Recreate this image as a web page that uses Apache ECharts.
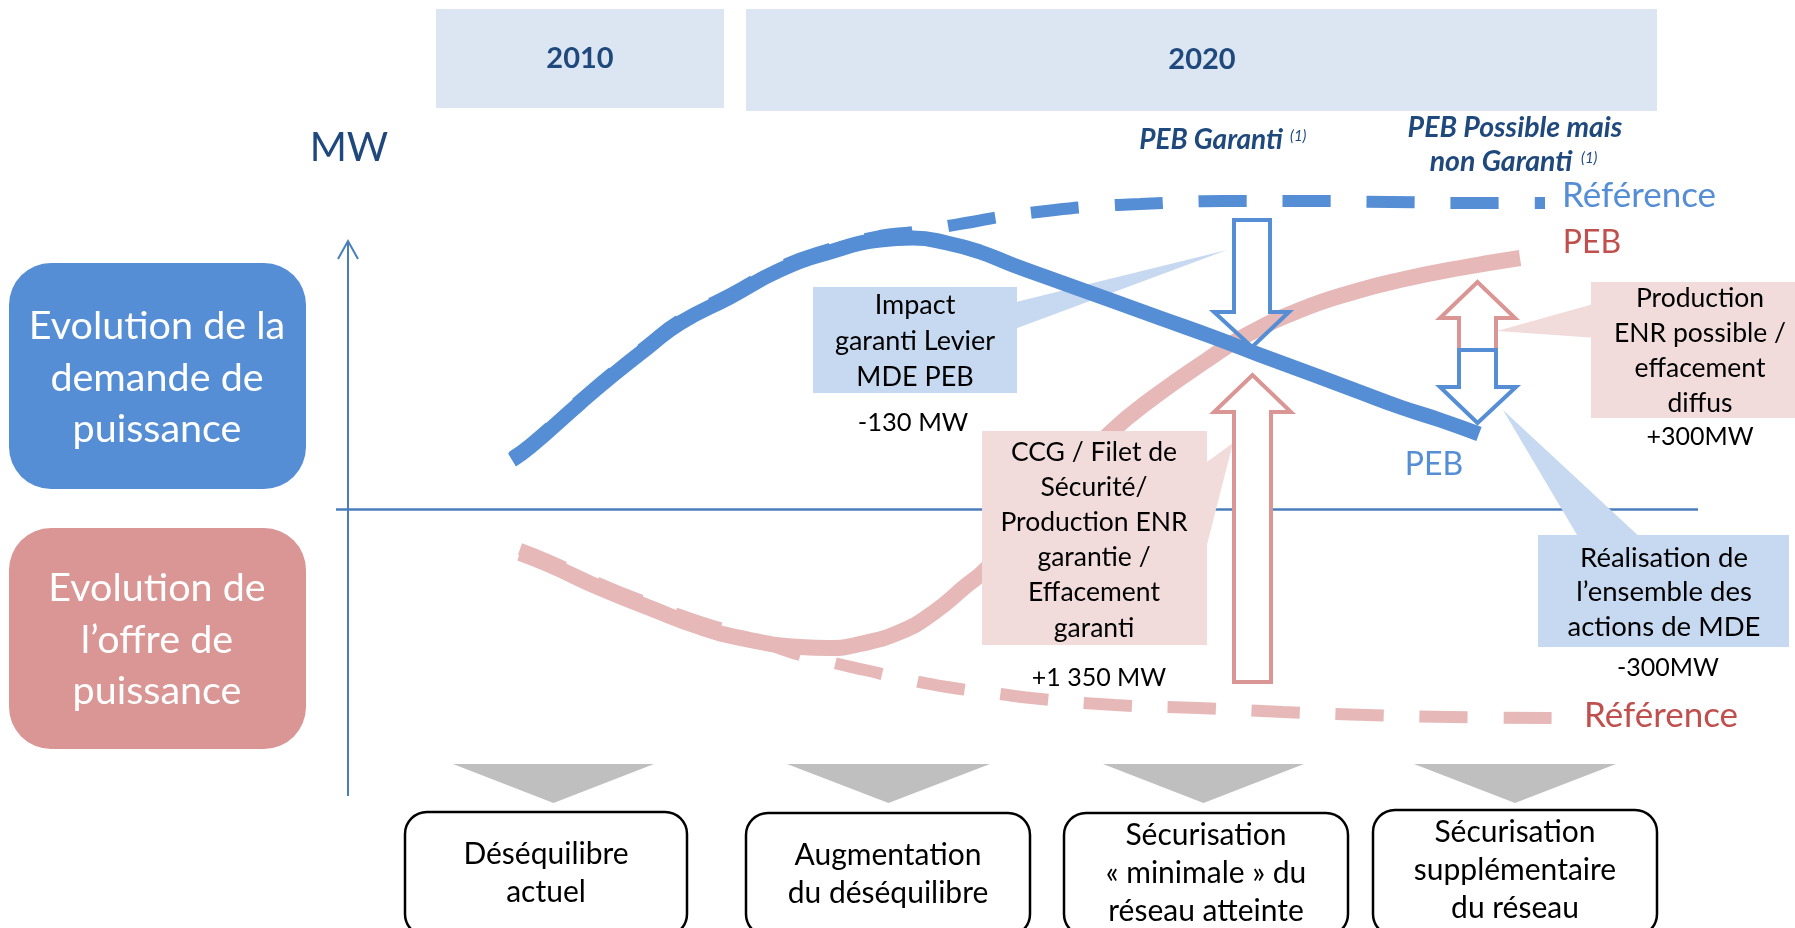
<!DOCTYPE html>
<html><head><meta charset="utf-8">
<script src="https://cdn.jsdelivr.net/npm/echarts@6/dist/echarts.min.js"></script>
<style>html,body{margin:0;padding:0;background:#fff;overflow:hidden}#c{width:1795px;height:928px}</style>
</head><body><div id="c"></div>
<script>
// ---- data (diagram units: x = time position, y = power level, top = 0) ----
const periodLabels = ['2010', '2020'];
const demandeReference = [[512,457],[530,444],[580,400],[613,372],[647,345],[680,320],[730,294],[780,267],[830,249],[880,236],[913,232],[948,226],[972,222],[1000,217],[1055,210],[1100,206],[1140,204],[1223,201],[1307,201],[1391,202],[1474,203],[1545,203]];
const demandePEB = [[512,460],[530,447],[580,403],[613,375],[647,348],[680,323],[730,297],[780,270],[830,252],[880,240],[913,238],[947,243],[980,252],[1013,265],[1060,282],[1113,301],[1160,318],[1213,337],[1260,355],[1317,376],[1357,391],[1400,407],[1440,420],[1479,434]];
const offreReference = [[520,549],[550,561],[600,584],[650,604],[700,622],[750,637],[790,652],[830,662],[865,670],[900,678],[947,687],[1000,694],[1031,698],[1115,705],[1199,708],[1283,712],[1367,715],[1451,717],[1560,718]];
const offrePEB = [[520,553],[550,565],[600,588],[650,608],[700,627],[750,640],[800,647],[830,648],[860,644],[900,632],[933,613],[967,585],[982,573],[1010,545],[1045,505],[1080,465],[1111,432],[1150,400],[1207,360],[1243,337],[1300,310],[1357,291],[1400,280],[1460,268],[1520,258]];
const phaseLabels = ['Déséquilibre\nactuel', 'Augmentation\ndu déséquilibre', 'Sécurisation\n« minimale » du\nréseau atteinte', 'Sécurisation\nsupplémentaire\ndu réseau'];
const rowLabels = ['Evolution de la\ndemande de\npuissance', 'Evolution de\nl\u2019offre de\npuissance'];
const calloutLabels = ['Impact\ngaranti Levier\nMDE PEB', 'CCG / Filet de\nSécurité/\nProduction ENR\ngarantie /\nEffacement\ngaranti', 'Production\nENR possible /\neffacement\ndiffus', 'Réalisation de\nl\u2019ensemble des\nactions de MDE'];
const impactValues = ['-130 MW', '+1 350 MW', '+300MW', '-300MW'];

// ---- styles ----
const F = 'Lato, "Noto Sans", sans-serif';
const BLUE = '#558ed5', PINK = '#e6b9b8', DARK = '#1f497d', RED = '#c0504d', ARROWRED = '#d99694';

function txt(x, y, text, size, color, o) {
  o = o || {};
  return { type: 'text', x: x, y: y, z: o.z || 30, zlevel: 0, silent: true,
    style: { text: text, fill: color, font: (o.italic ? 'italic ' : '') + (o.bold ? 'bold ' : '') + size + 'px ' + F,
      align: o.align || 'center', verticalAlign: 'middle', textAlign: o.align || 'center', textVerticalAlign: 'middle',
      lineHeight: o.lh || Math.round(size * 1.3) } };
}
function rect(x, y, w, h, fill, o) {
  o = o || {};
  return { type: 'rect', z: o.z || 10, silent: true, shape: { x: x, y: y, width: w, height: h, r: o.r || 0 },
    style: { fill: fill, stroke: o.stroke || null, lineWidth: o.lw || 0 } };
}
function poly(points, fill, o) {
  o = o || {};
  return { type: 'polygon', z: o.z || 10, silent: true, shape: { points: points },
    style: { fill: fill, stroke: o.stroke || null, lineWidth: o.lw || 0, lineJoin: 'miter' } };
}
function arrowDown(xl, xr, top, headY, hl, hr, tip) {
  const cx = (xl + xr) / 2;
  return [[xl, top], [xr, top], [xr, headY], [hr, headY], [cx, tip], [hl, headY], [xl, headY]];
}
function arrowUp(xl, xr, bottom, headY, hl, hr, tip) {
  const cx = (xl + xr) / 2;
  return [[xl, bottom], [xr, bottom], [xr, headY], [hr, headY], [cx, tip], [hl, headY], [xl, headY]];
}

const els = [];
// header periods
els.push(rect(436, 9, 288, 99, '#dce6f2', { z: 5 }));
els.push(rect(746, 9, 911, 102, '#dce6f2', { z: 5 }));
els.push(txt(580, 59, periodLabels[0], 29, DARK, { bold: true }));
els.push(txt(1202, 60, periodLabels[1], 29, DARK, { bold: true }));
// MW label
els.push(txt(349, 148, 'MW', 40, DARK));
// row boxes
els.push(rect(9, 263, 297, 226, '#558ed5', { r: 42, z: 5 }));
els.push(rect(9, 528, 297, 221, '#d99694', { r: 42, z: 5 }));
els.push(txt(157, 378, rowLabels[0], 39.5, '#ffffff', { lh: 51.5 }));
els.push(txt(157, 640, rowLabels[1], 39.5, '#ffffff', { lh: 51.5 }));
// axes
els.push({ type: 'line', z: 2, silent: true, shape: { x1: 348, y1: 241, x2: 348, y2: 796 }, style: { stroke: '#4a7ebb', lineWidth: 2 } });
els.push({ type: 'polyline', z: 2, silent: true, shape: { points: [[338, 259], [348, 241], [358, 259]] }, style: { stroke: '#4a7ebb', lineWidth: 2, fill: null } });
els.push({ type: 'line', z: 2, silent: true, shape: { x1: 336, y1: 509.5, x2: 1698, y2: 509.5 }, style: { stroke: '#4a7ebb', lineWidth: 2.5 } });
// titles above arrows
els.push(txt(1211, 140, 'PEB Garanti', 28, DARK, { bold: true, italic: true }));
els.push(txt(1290, 136, '(1)', 15, DARK, { italic: true, align: 'left' }));
els.push(txt(1515, 128, 'PEB Possible mais', 28.5, DARK, { bold: true, italic: true }));
els.push(txt(1501, 162, 'non Garanti', 28.5, DARK, { bold: true, italic: true }));
els.push(txt(1581, 158, '(1)', 15, DARK, { italic: true, align: 'left' }));
// curve labels
els.push(txt(1639, 196, 'Référence', 35, BLUE));
els.push(txt(1592, 243, 'PEB', 32, RED));
els.push(txt(1434, 465, 'PEB', 32, BLUE));
els.push(txt(1661, 716, 'Référence', 35, RED));
// callout: Impact (blue, below curves)
els.push(poly([[1012, 303], [1227, 250], [1012, 330]], '#c6d9f1', { z: 1 }));
els.push(rect(813, 287, 204, 106, '#c6d9f1', { z: 1 }));
els.push(txt(915, 341, calloutLabels[0], 27, '#000000', { lh: 36 }));
els.push(txt(913, 423, impactValues[0], 25.5, '#000000'));
// callout: CCG (pink, above red curve)
els.push(poly([[1200, 467], [1233, 443], [1200, 572]], '#f2dcdb', { z: 12 }));
els.push(rect(982, 431, 225, 214, '#f2dcdb', { z: 12 }));
els.push(txt(1094, 540, calloutLabels[1], 26.5, '#000000', { lh: 35.2 }));
els.push(txt(1099, 678, impactValues[1], 25, '#000000'));
// callout: Production ENR
els.push(poly([[1597, 303], [1497, 331], [1597, 338]], '#f2dcdb', { z: 12 }));
els.push(rect(1591, 282, 210, 136, '#f2dcdb', { z: 12 }));
els.push(txt(1700, 350.5, calloutLabels[2], 26.5, '#000000', { lh: 35 }));
els.push(txt(1700, 437, impactValues[2], 25, '#000000'));
// callout: Réalisation
els.push(poly([[1503, 410], [1643, 540], [1580, 540]], '#c6d9f1', { z: 12 }));
els.push(rect(1538, 535, 251, 112, '#c6d9f1', { z: 12 }));
els.push(txt(1664, 592.5, calloutLabels[3], 27.5, '#000000', { lh: 34.5 }));
els.push(txt(1668, 668, impactValues[3], 25, '#000000'));
// arrows
els.push(poly(arrowDown(1234, 1270, 220, 312, 1214, 1289, 347), 'rgba(255,255,255,0)', { stroke: BLUE, lw: 4, z: 20 }));
els.push(poly(arrowUp(1234, 1271, 682, 412, 1214, 1291, 375), '#ffffff', { stroke: ARROWRED, lw: 4, z: 20 }));
els.push(poly(arrowUp(1459, 1496, 350, 318, 1440, 1515, 282), '#ffffff', { stroke: ARROWRED, lw: 4, z: 20 }));
els.push(poly(arrowDown(1459, 1496, 350, 387, 1440, 1516, 423), '#ffffff', { stroke: BLUE, lw: 4, z: 21 }));
// phase triangles and boxes
const triX = [[453, 654], [787, 990], [1103, 1304], [1414, 1616]];
const boxX = [[405, 687], [746, 1030], [1064, 1348], [1373, 1657]];
const boxTop = [812, 813, 813, 810];
const textY = [873.5, 874, 873.5, 870];
for (let i = 0; i < 4; i++) {
  const t = triX[i];
  els.push(poly([[t[0], 764], [t[1], 764], [(t[0] + t[1]) / 2, 803]], '#bfbfbf', { z: 5 }));
  const b = boxX[i];
  els.push(rect(b[0], boxTop[i], b[1] - b[0], 936 - boxTop[i], '#ffffff', { r: 22, stroke: '#000000', lw: 2.5, z: 5 }));
  els.push(txt((b[0] + b[1]) / 2, textY[i], phaseLabels[i], 30, '#000000', { lh: 38 }));
}

const chart = echarts.init(document.getElementById('c'), null, { renderer: 'canvas' });
chart.setOption({
  animation: false,
  grid: { left: 0, right: 0, top: 0, bottom: 0 },
  xAxis: { type: 'value', min: 0, max: 1795, show: false },
  yAxis: { type: 'value', min: 0, max: 928, inverse: true, show: false },
  series: [
    { type: 'line', name: 'Offre référence', data: offreReference, smooth: 0.5, symbol: 'none', z: 3,
      lineStyle: { color: PINK, width: 12, type: [48, 36], cap: 'butt' } },
    { type: 'line', name: 'Offre PEB', data: offrePEB, smooth: 0.5, symbol: 'none', z: 3,
      lineStyle: { color: PINK, width: 16, cap: 'butt' } },
    { type: 'line', name: 'Demande référence', data: demandeReference, smooth: 0.5, symbol: 'none', z: 4,
      lineStyle: { color: BLUE, width: 12, type: [48, 36], cap: 'butt' } },
    { type: 'line', name: 'Demande PEB', data: demandePEB, smooth: 0.5, symbol: 'none', z: 4,
      lineStyle: { color: BLUE, width: 15, cap: 'butt' } }
  ],
  graphic: { elements: els }
});
</script></body></html>
